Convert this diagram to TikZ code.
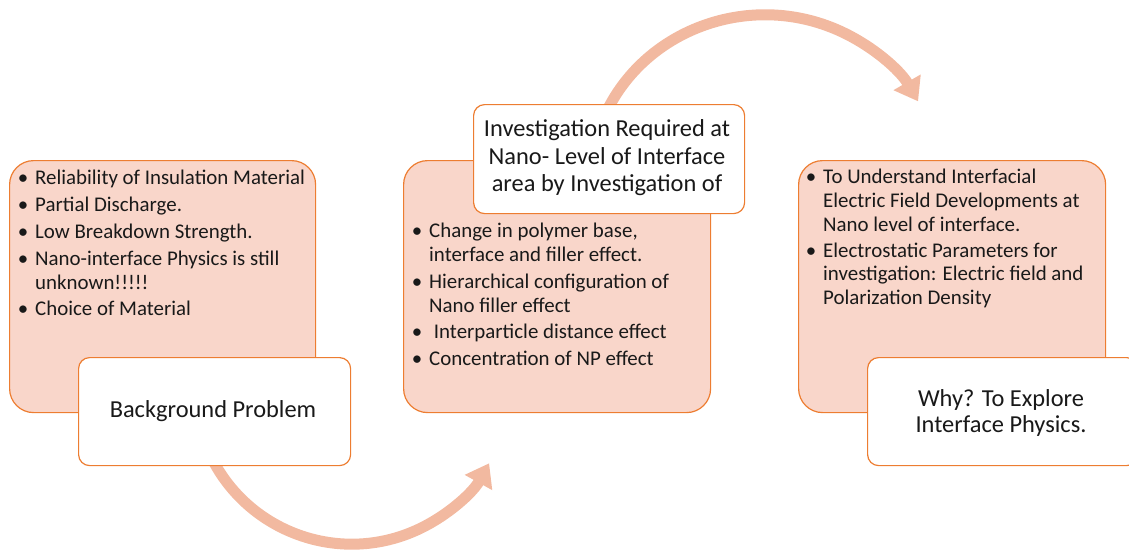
\documentclass[tikz,border=0pt]{standalone}
\usepackage{fontspec}
\setmainfont{Carlito}
\usetikzlibrary{arrows.meta}

\definecolor{boxfill}{RGB}{249,214,202}
\definecolor{boxline}{RGB}{237,125,49}
\definecolor{flowcol}{RGB}{242,185,160}
\definecolor{ink}{RGB}{25,25,25}

% bullet hanging to the left of an item's first line
\newcommand\blt{\llap{\textbullet\hspace{7pt}}}

\tikzset{
  pinkbox/.style={draw=boxline, fill=boxfill, line width=1.2pt,
    rounded corners=24pt, inner sep=0pt, anchor=north west},
  whitebox/.style={draw=boxline, fill=white, line width=1.2pt,
    rounded corners=11pt, inner sep=0pt, anchor=north west},
  body/.style={font=\fontsize{20.9}{24}\selectfont, text=ink,
    inner sep=0pt, anchor=base west},
  head/.style={font=\fontsize{24.4}{28}\selectfont, text=ink,
    inner sep=0pt, anchor=base},
  flow/.style={draw=flowcol, line width=11pt,
    -{Triangle[width=30pt,length=22pt]}}
}

\begin{document}
\begin{tikzpicture}[x=1pt, y=1pt, yscale=-1]
\useasboundingbox (0,0) rectangle (1129,549);

% ---- shaded panels ----
\node[pinkbox, minimum width=306pt, minimum height=252pt] (bgpanel) at (9,160) {};
\node[pinkbox, minimum width=307pt, minimum height=252pt] (invpanel) at (403,160) {};
\node[pinkbox, minimum width=307pt, minimum height=252pt] (whypanel) at (798,160) {};

% ---- curved flow arrows (start hidden under the white boxes) ----
\coordinate (lowc) at (350,388);
\coordinate (lowstart) at (209.5,453.5);
\draw[flow] (lowstart) arc[start angle=155, end angle=29, radius=157];

\coordinate (upc) at (765,183);
\coordinate (upstart) at (606.4,111.8);
\draw[flow] (upstart) arc[start angle=-155, end angle=-29, x radius=175, y radius=168];

% ---- white caption boxes ----
\node[whitebox, minimum width=272pt, minimum height=108pt] (bgcap) at (78,357) {};
\node[whitebox, minimum width=271pt, minimum height=109pt] (invcap) at (473,104) {};
\node[whitebox, minimum width=270pt, minimum height=108pt] (whycap) at (867,357) {};

% ---- left panel ----
\node[body] (bg1) at (35,184) {\blt Reliability of Insulation Material};
\node[body] (bg2) at (35,211) {\blt Partial Discharge.};
\node[body] (bg3) at (35,238) {\blt Low Breakdown Strength.};
\node[body] (bg4) at (35,265) {\blt Nano-interface Physics is still};
\node[body] (bg5) at (35,289) {unknown!!!!!};
\node[body] (bg6) at (35,315) {\blt Choice of Material};
\node[head] (bgtitle) at (213,417) {Background Problem};

% ---- middle panel ----
\node[head] (inv1) at (607,136) {Investigation Required at};
\node[head] (inv2) at (607,164) {Nano- Level of Interface};
\node[head] (inv3) at (607,191) {area by Investigation of};
\node[body] (iv1) at (429,237) {\blt Change in polymer base,};
\node[body] (iv2) at (429,261) {interface and filler effect.};
\node[body] (iv3) at (429,288) {\blt Hierarchical configuration of};
\node[body] (iv4) at (429,312) {Nano filler effect};
\node[body] (iv5) at (429,338) {\blt\ Interparticle distance effect};
\node[body] (iv6) at (429,365) {\blt Concentration of NP effect};

% ---- right panel ----
\node[body] (wy1) at (823,183) {\blt To Understand Interfacial};
\node[body] (wy2) at (823,207) {Electric Field Developments at};
\node[body] (wy3) at (823,231) {Nano level of interface.};
\node[body] (wy4) at (823,257) {\blt Electrostatic Parameters for};
\node[body] (wy5) at (823,280) {investigation: Electric field and};
\node[body] (wy6) at (823,304) {Polarization Density};
\node[head] (why1) at (1001,406) {Why? To Explore};
\node[head] (why2) at (1001,432) {Interface Physics.};
\end{tikzpicture}
\end{document}
